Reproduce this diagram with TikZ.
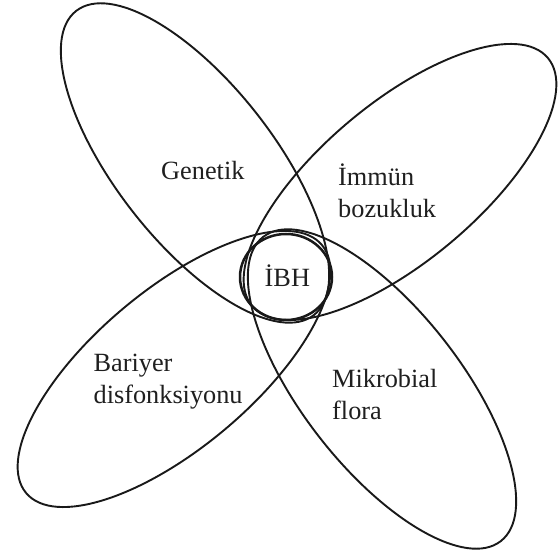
\documentclass[tikz,border=0pt]{standalone}
\usepackage{fontspec}
\setmainfont{Liberation Serif}
\begin{document}
\begin{tikzpicture}[x=1pt,y=1pt,
  petal/.style={draw=black!90, line width=1.9pt},
  core/.style={draw=black!90, line width=2.5pt},
  lbl/.style={inner sep=0pt, anchor=base west, text=black!88, font=\fontsize{26.3}{32}\selectfont}]
\useasboundingbox (0,0) rectangle (559,553);
% petals (centre given in picture pixels, y measured upward)
\draw[petal] (195,390) ellipse [x radius=193, y radius=79, rotate=-52];
\draw[petal] (382,164) ellipse [x radius=193, y radius=79, rotate=-52];
\draw[petal] (400,371) ellipse [x radius=193, y radius=79, rotate=40];
\draw[petal] (174,184) ellipse [x radius=193, y radius=79, rotate=40];
% centre
\draw[core] (286,276) ellipse [x radius=46, y radius=43];
% labels
\node[lbl] (genetik) at (161,373.7) {Genetik};
\node[lbl] (immun1) at (338,367) {İmmün};
\node[lbl] (immun2) at (338,335) {bozukluk};
\node[lbl] (ibh) at (264.5,266) {İBH};
\node[lbl] (bar1) at (93.4,181.5) {Bariyer};
\node[lbl] (bar2) at (93.4,149.4) {disfonksiyonu};
\node[lbl] (mik1) at (332,165.1) {Mikrobial};
\node[lbl] (mik2) at (332,133) {flora};
\end{tikzpicture}
\end{document}
